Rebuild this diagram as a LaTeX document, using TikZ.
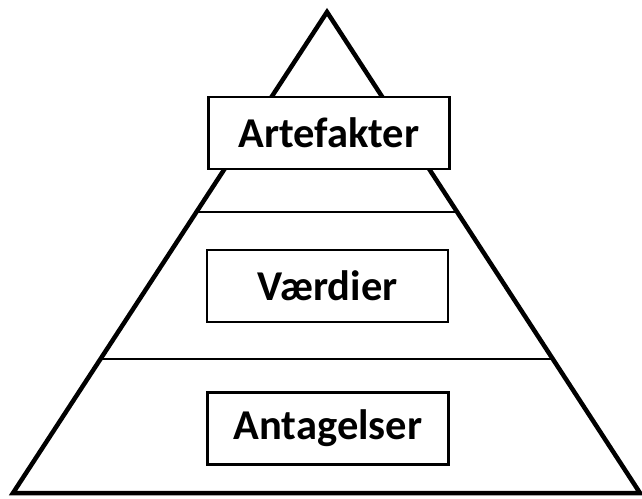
\documentclass[tikz,border=0pt]{standalone}
\usepackage{fontspec}
\setmainfont{Carlito}
\usetikzlibrary{calc}
\begin{document}
\begin{tikzpicture}[x=1pt,y=-1pt,
  layerbox/.style={draw=black,line width=2.2pt,fill=white,minimum width=241pt,minimum height=72pt,inner sep=0pt,font=\fontsize{42.5}{46}\selectfont\bfseries},
  divider/.style={line width=2pt},
  pyramid/.style={line width=4.5pt,line join=miter}]
\useasboundingbox (0,0) rectangle (642,498);
\coordinate (apex) at (327,12);
\coordinate (bl) at (13,493);
\coordinate (br) at (640,493);
\draw[pyramid] (bl) -- (apex) -- (br) -- cycle;
\coordinate (l1) at ($(apex)!0.4158!(bl)$);
\coordinate (r1) at ($(apex)!0.4158!(br)$);
\coordinate (l2) at ($(apex)!0.7214!(bl)$);
\coordinate (r2) at ($(apex)!0.7214!(br)$);
\draw[divider] (l1) -- (r1);
\draw[divider] (l2) -- (r2);
\node[layerbox] (artefakter) at (329,133) {Artefakter};
\node[layerbox] (vaerdier) at (327.5,286) {Værdier};
\node[layerbox] (antagelser) at (328,428.5) {Antagelser};
\end{tikzpicture}
\end{document}
